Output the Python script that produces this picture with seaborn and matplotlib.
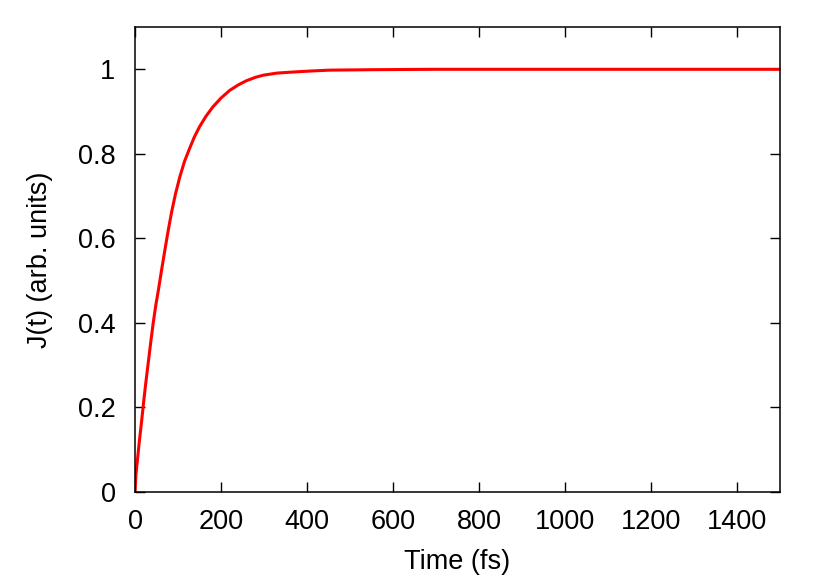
import numpy as np
import pandas as pd
import matplotlib
matplotlib.use("Agg")
import matplotlib.pyplot as plt
import seaborn as sns
from matplotlib.ticker import FormatStrFormatter

# values
time_fs = [0, 2, 5, 10, 15, 20, 25, 30, 36, 42, 48, 55, 62, 69, 77, 85, 94,
           104, 115, 127, 138, 150, 165, 181, 200, 220, 240, 259, 280, 298,
           330, 375, 410, 453, 500, 550, 620, 700, 800, 900, 1000, 1100,
           1200, 1300, 1400, 1500]
current = [0, 0.04, 0.07, 0.12, 0.165, 0.213, 0.258, 0.30, 0.35, 0.398,
           0.44, 0.482, 0.527, 0.57, 0.618, 0.662, 0.705, 0.745, 0.782,
           0.813, 0.840, 0.864, 0.889, 0.911, 0.932, 0.950, 0.963, 0.973,
           0.981, 0.986, 0.991, 0.994, 0.996, 0.998, 0.9985, 0.999, 0.9995,
           1.0, 1.0, 1.0, 1.0, 1.0, 1.0, 1.0, 1.0, 1.0]
xticks = [0, 200, 400, 600, 800, 1000, 1200, 1400]
yticks = [0, 0.2, 0.4, 0.6, 0.8, 1]

df = pd.DataFrame({"t": time_fs, "J": current})

sns.set_style("ticks")
plt.rcParams['font.family'] = ['Liberation Sans', 'DejaVu Sans']

fig = plt.figure(figsize=(8.3, 5.81), dpi=100)
ax = fig.add_axes([0.1627, 0.1532, 0.9398 - 0.1627, 0.9535 - 0.1532])
sns.lineplot(data=df, x="t", y="J", color="red", linewidth=2.2, ax=ax)

ax.set_xlim(0, 1500)
ax.set_ylim(0, 1.1)
ax.set_xticks(xticks)
ax.set_yticks(yticks)
ax.yaxis.set_major_formatter(FormatStrFormatter('%g'))
ax.tick_params(direction='in', length=7, width=1, top=True, right=True,
               labelsize=19.5, colors='black')
ax.tick_params(axis='x', pad=12)
ax.tick_params(axis='y', pad=14)
for s in ax.spines.values():
    s.set_linewidth(1.1)
    s.set_color('black')
ax.set_xlabel("Time (fs)", fontsize=19.5, labelpad=10, color='black')
ax.set_ylabel("J(t) (arb. units)", fontsize=19.5, labelpad=18, color='black')

fig.savefig("out.png", dpi=100)
